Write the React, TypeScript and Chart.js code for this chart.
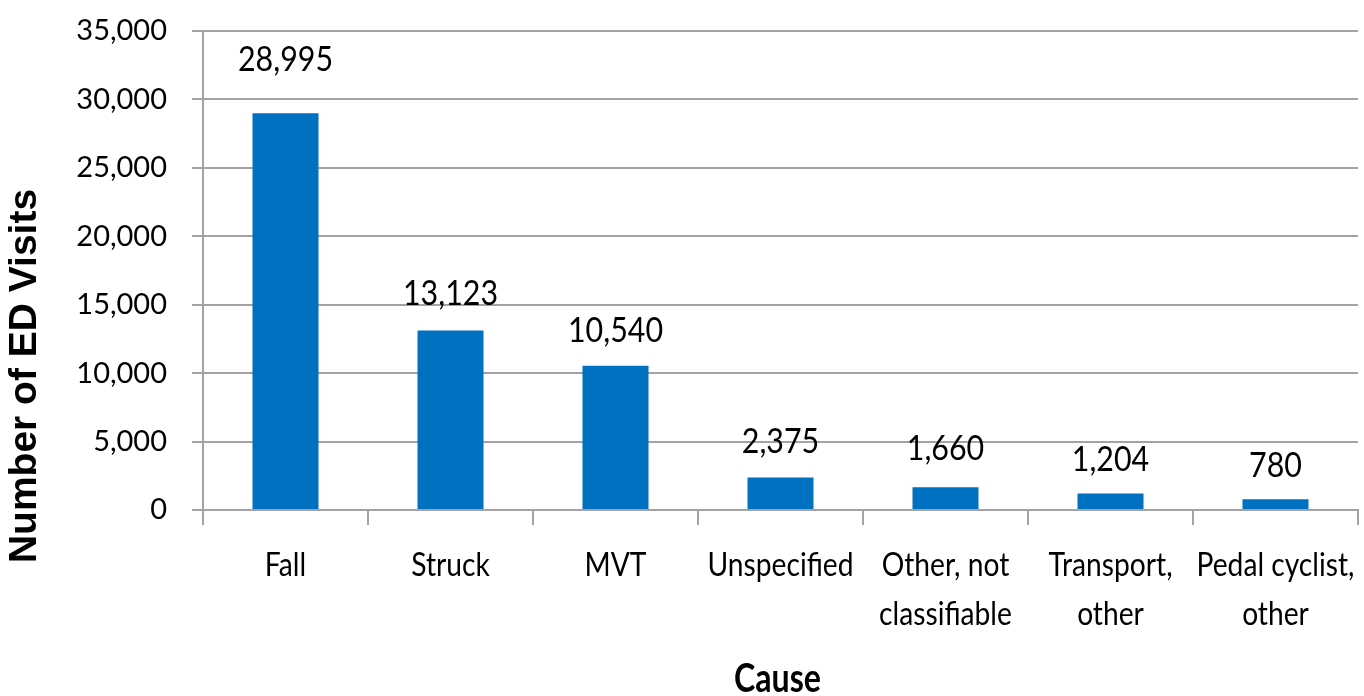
import { useEffect, useRef } from 'react';
import { Chart, registerables } from 'chart.js';

Chart.register(...registerables);

// ---- data ----
const categories: string[][] = [
  ['Fall'],
  ['Struck'],
  ['MVT'],
  ['Unspecified'],
  ['Other, not', 'classifiable'],
  ['Transport,', 'other'],
  ['Pedal cyclist,', 'other'],
];
const visits: number[] = [28995, 13123, 10540, 2375, 1660, 1204, 780];
const yMin = 0;
const yMax = 35000;
const yStep = 5000;
const xTitle = 'Cause';
const yTitle = 'Number of ED Visits';

// ---- styles ----
const FONT = "Lato, 'Open Sans', sans-serif";
const BAR_COLOR = '#0070C0';
const GRID_COLOR = '#a3a3a3';
const labelLift = [42, 25, 24, 24, 27, 23, 22];

const fmt = (v: number) => Number(v).toLocaleString('en-US');

function drawNarrow(ctx: any, text: string, x: number, y: number, sx: number) {
  ctx.save();
  ctx.translate(x, y);
  ctx.scale(sx, 1);
  ctx.fillText(text, 0, 0);
  ctx.restore();
}

const textPlugin = {
  id: 'textPlugin',
  afterDraw(chart: any) {
    const ctx = chart.ctx;
    const meta = chart.getDatasetMeta(0);
    const xScale = chart.scales.x;
    ctx.save();
    ctx.fillStyle = '#000';
    ctx.textAlign = 'center';
    ctx.textBaseline = 'alphabetic';

    // value labels above bars
    ctx.font = `35px ${FONT}`;
    const sxVal = 95 / ctx.measureText('28,995').width;
    meta.data.forEach((bar: any, i: number) => {
      drawNarrow(ctx, fmt(visits[i]), bar.x, bar.y - (labelLift[i] ?? 24), sxVal);
    });

    // category labels
    ctx.font = `33px ${FONT}`;
    const sxCat = 146 / ctx.measureText('Unspecified').width;
    (chart.data.labels as string[][]).forEach((lines, i) => {
      const x = xScale.getPixelForValue(i);
      lines.forEach((line, j) => {
        drawNarrow(ctx, line, x, xScale.top + 66 + j * 49, sxCat);
      });
    });

    // x axis title
    ctx.font = `bold 40px ${FONT}`;
    const sxTitle = 87 / ctx.measureText(xTitle).width;
    drawNarrow(ctx, xTitle, (xScale.left + xScale.right) / 2 - 3, 692, sxTitle);

    // y axis title
    ctx.translate(25, 376);
    ctx.rotate(-Math.PI / 2);
    ctx.font = `bold 39px 'Liberation Sans', Arial, sans-serif`;
    ctx.textBaseline = 'middle';
    ctx.fillText(yTitle, 0, 0);
    ctx.restore();
  },
};

export default function App() {
  const canvasRef = useRef<HTMLCanvasElement | null>(null);

  useEffect(() => {
    if (!canvasRef.current) return;
    const chart = new Chart(canvasRef.current, {
      type: 'bar',
      data: {
        labels: categories,
        datasets: [
          {
            label: yTitle,
            data: visits,
            backgroundColor: BAR_COLOR,
            borderWidth: 0,
            barPercentage: 0.4,
            categoryPercentage: 1,
          },
        ],
      },
      options: {
        responsive: true,
        maintainAspectRatio: false,
        animation: false,
        layout: { padding: { top: 31, right: 6, left: 0, bottom: 0 } },
        plugins: {
          legend: { display: false },
          tooltip: { enabled: false },
        },
        scales: {
          x: {
            grid: {
              display: true,
              drawOnChartArea: false,
              drawTicks: true,
              tickLength: 15,
              color: GRID_COLOR,
              lineWidth: 2,
              offset: true,
            },
            border: { display: true, color: GRID_COLOR, width: 2 },
            ticks: { display: false, autoSkip: false, maxRotation: 0 },
            title: { display: false, text: xTitle },
            afterFit: (s: any) => {
              s.height = 186;
              s.paddingLeft = 0;
              s.paddingRight = 0;
            },
          },
          y: {
            min: yMin,
            max: yMax,
            ticks: {
              stepSize: yStep,
              color: '#000',
              font: { family: FONT, size: 29 },
              padding: 25,
              callback: (v: any) => fmt(v),
            },
            grid: { color: GRID_COLOR, lineWidth: 2, tickLength: 11, drawTicks: true },
            border: { display: true, color: GRID_COLOR, width: 2 },
            afterFit: (s: any) => {
              s.width = 203;
              s.paddingTop = 0;
              s.paddingBottom = 0;
            },
          },
        },
      } as any,
      plugins: [textPlugin],
    });
    return () => chart.destroy();
  }, []);

  return (
    <div style={{ position: 'fixed', left: 0, top: 0, width: 1364, height: 696, background: '#fff' }}>
      <canvas ref={canvasRef} />
    </div>
  );
}
